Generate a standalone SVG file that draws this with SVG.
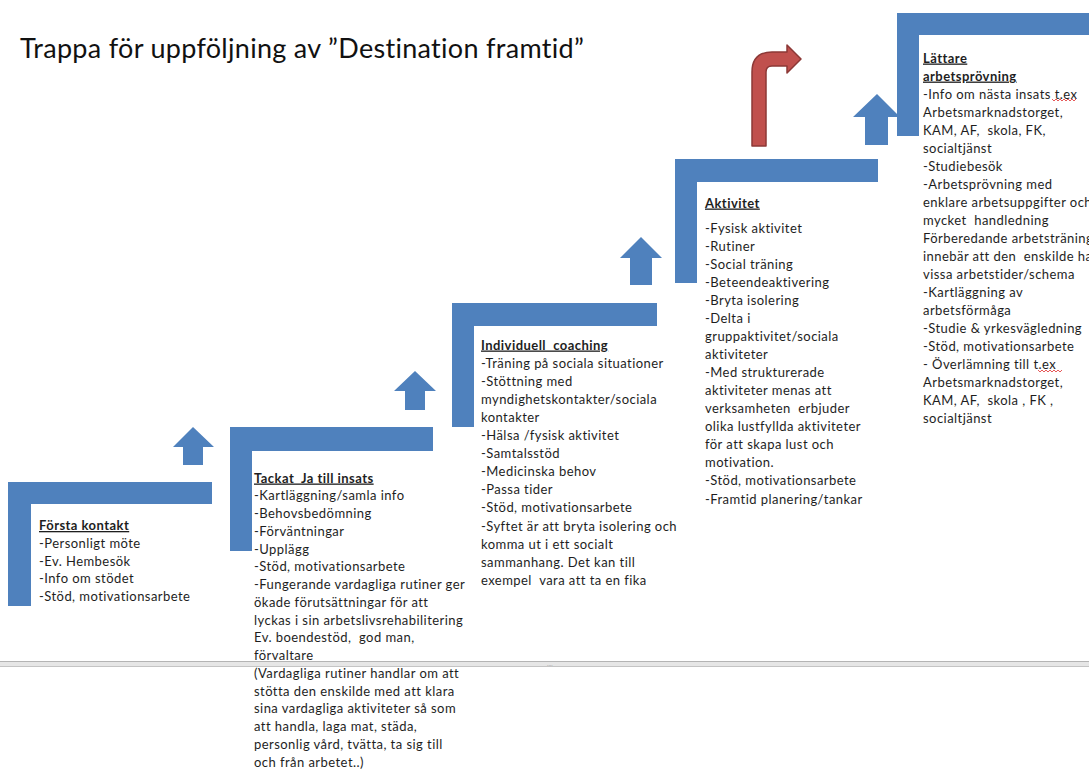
<svg xmlns="http://www.w3.org/2000/svg" width="1089" height="769" viewBox="0 0 1089 769">
<style>
.step{fill:#4F81BD}
.arr{fill:#4F81BD}
.t{font-family:Lato,"Liberation Sans",sans-serif;font-size:13px;fill:#1e1e1e;letter-spacing:0.45px;font-variant-ligatures:none;white-space:pre}
.h{font-weight:bold;text-decoration:underline}
.title{font-family:Lato,"Liberation Sans",sans-serif;font-size:27px;fill:#111;letter-spacing:0.3px;font-variant-ligatures:none}
.sq{fill:none;stroke:#e03030;stroke-width:0.8}
</style>
<rect width="1089" height="769" fill="#fff"/>
<text class="title" x="20" y="58">Trappa för uppföljning av ”Destination framtid”</text>

<g id="connectors">
<polygon class="arr" points="193,427 214,447 203,447 203,465 183,465 183,447 173,447"/>
<polygon class="arr" points="415,371 436,391 425,391 425,410 405,410 405,391 394,391"/>
<polygon class="arr" points="641,237 662,258 652,258 652,285 630,285 630,258 620,258"/>
<polygon class="arr" points="877,94 900,117 888,117 888,145 865,145 865,117 853,117"/>
<path d="M752,146 V72 Q752,52 772,52 H787 V45 L801,59 L787,73 V66 H772 Q766,66 766,72 V146 Z" fill="#C0504D" stroke="#8C3836" stroke-width="1.5" stroke-linejoin="round"/>
</g>

<g id="step1">
<path class="step" d="M8,482 H212 V504 H31 V606 H8 Z"/>
<text class="t" x="39" y="530"><tspan class="h">Första kontakt</tspan><tspan x="39" dy="17.75">-Personligt möte</tspan><tspan x="39" dy="17.75">-Ev. Hembesök</tspan><tspan x="39" dy="17.75">-Info om stödet</tspan><tspan x="39" dy="17.75">-Stöd, motivationsarbete</tspan></text>
</g>

<g id="step2">
<path class="step" d="M230,427 H433 V451 H252 V551 H230 Z"/>
<text class="t" x="254" y="482.5"><tspan class="h">Tackat  Ja till insats</tspan><tspan x="254" dy="17.75">-Kartläggning/samla info</tspan><tspan x="254" dy="17.75">-Behovsbedömning</tspan><tspan x="254" dy="17.75">-Förväntningar</tspan><tspan x="254" dy="17.75">-Upplägg</tspan><tspan x="254" dy="17.75">-Stöd, motivationsarbete</tspan><tspan x="254" dy="17.75">-Fungerande vardagliga rutiner ger</tspan><tspan x="254" dy="17.75">ökade förutsättningar för att</tspan><tspan x="254" dy="17.75">lyckas i sin arbetslivsrehabilitering</tspan><tspan x="254" dy="17.75">Ev. boendestöd,  god man,</tspan><tspan x="254" dy="17.75">förvaltare</tspan><tspan x="254" dy="17.75">(Vardagliga rutiner handlar om att</tspan><tspan x="254" dy="17.75">stötta den enskilde med att klara</tspan><tspan x="254" dy="17.75">sina vardagliga aktiviteter så som</tspan><tspan x="254" dy="17.75">att handla, laga mat, städa,</tspan><tspan x="254" dy="17.75">personlig vård, tvätta, ta sig till</tspan><tspan x="254" dy="17.75">och från arbetet..)</tspan></text>
</g>

<g id="step3">
<path class="step" d="M452,303 H657 V326 H474 V427 H452 Z"/>
<text class="t" x="481" y="349.5"><tspan class="h">Individuell  coaching</tspan><tspan x="481" dy="18.1">-Träning på sociala situationer</tspan><tspan x="481" dy="18.1">-Stöttning med</tspan><tspan x="481" dy="18.1">myndighetskontakter/sociala</tspan><tspan x="481" dy="18.1">kontakter</tspan><tspan x="481" dy="18.1">-Hälsa /fysisk aktivitet</tspan><tspan x="481" dy="18.1">-Samtalsstöd</tspan><tspan x="481" dy="18.1">-Medicinska behov</tspan><tspan x="481" dy="18.1">-Passa tider</tspan><tspan x="481" dy="18.1">-Stöd, motivationsarbete</tspan><tspan x="481" dy="18.1">-Syftet är att bryta isolering och</tspan><tspan x="481" dy="18.1">komma ut i ett socialt</tspan><tspan x="481" dy="18.1">sammanhang. Det kan till</tspan><tspan x="481" dy="18.1">exempel  vara att ta en fika</tspan></text>
</g>

<g id="step4">
<path class="step" d="M675,159 H878 V182 H697 V283 H675 Z"/>
<text class="t" x="705" y="207.5"><tspan class="h">Aktivitet</tspan><tspan x="705" dy="25">-Fysisk aktivitet</tspan><tspan x="705" dy="18.07">-Rutiner</tspan><tspan x="705" dy="18.07">-Social träning</tspan><tspan x="705" dy="18.07">-Beteendeaktivering</tspan><tspan x="705" dy="18.07">-Bryta isolering</tspan><tspan x="705" dy="18.07">-Delta i</tspan><tspan x="705" dy="18.07">gruppaktivitet/sociala</tspan><tspan x="705" dy="18.07">aktiviteter</tspan><tspan x="705" dy="18.07">-Med strukturerade</tspan><tspan x="705" dy="18.07">aktiviteter menas att</tspan><tspan x="705" dy="18.07">verksamheten  erbjuder</tspan><tspan x="705" dy="18.07">olika lustfyllda aktiviteter</tspan><tspan x="705" dy="18.07">för att skapa lust och</tspan><tspan x="705" dy="18.07">motivation.</tspan><tspan x="705" dy="18.07">-Stöd, motivationsarbete</tspan><tspan x="705" dy="18.07">-Framtid planering/tankar</tspan></text>
</g>

<g id="step5">
<path class="step" d="M897,13 H1089 V35 H919 V136 H897 Z"/>
<text class="t" x="923" y="62.5"><tspan class="h">Lättare</tspan><tspan x="923" dy="18.05" class="h">arbetsprövning</tspan><tspan x="923" dy="18.05">-Info om nästa insats t.ex</tspan><tspan x="923" dy="18.05">Arbetsmarknadstorget,</tspan><tspan x="923" dy="18.05">KAM, AF,  skola, FK,</tspan><tspan x="923" dy="18.05">socialtjänst</tspan><tspan x="923" dy="18.05">-Studiebesök</tspan><tspan x="923" dy="18.05">-Arbetsprövning med</tspan><tspan x="923" dy="18.05">enklare arbetsuppgifter och</tspan><tspan x="923" dy="18.05">mycket  handledning</tspan><tspan x="923" dy="18.05">Förberedande arbetsträning</tspan><tspan x="923" dy="18.05">innebär att den  enskilde har</tspan><tspan x="923" dy="18.05">vissa arbetstider/schema</tspan><tspan x="923" dy="18.05">-Kartläggning av</tspan><tspan x="923" dy="18.05">arbetsförmåga</tspan><tspan x="923" dy="18.05">-Studie &amp; yrkesvägledning</tspan><tspan x="923" dy="18.05">-Stöd, motivationsarbete</tspan><tspan x="923" dy="18.05">- Överlämning till t.ex</tspan><tspan x="923" dy="18.05">Arbetsmarknadstorget,</tspan><tspan x="923" dy="18.05">KAM, AF,  skola , FK ,</tspan><tspan x="923" dy="18.05">socialtjänst</tspan></text>
<path class="sq" d="M1052,99 l2,2 l2,-2 l2,2 l2,-2 l2,2 l2,-2 l2,2 l2,-2 l2,2 l2,-2 l2,2 l2,-2"/>
<path class="sq" d="M1038,370 l2,2 l2,-2 l2,2 l2,-2 l2,2 l2,-2 l2,2 l2,-2 l2,2 l2,-2 l2,2 l2,-2"/>
</g>

<g id="divider">
<rect x="0" y="661" width="1089" height="6" fill="#e6e6e6"/>
<line x1="0" y1="661.5" x2="1089" y2="661.5" stroke="#b4b4b4"/>
<line x1="0" y1="666.5" x2="1089" y2="666.5" stroke="#c4c4c4"/>
<text x="547" y="666" font-family="Lato,sans-serif" font-size="6" fill="#999">....</text>
</g>
</svg>
